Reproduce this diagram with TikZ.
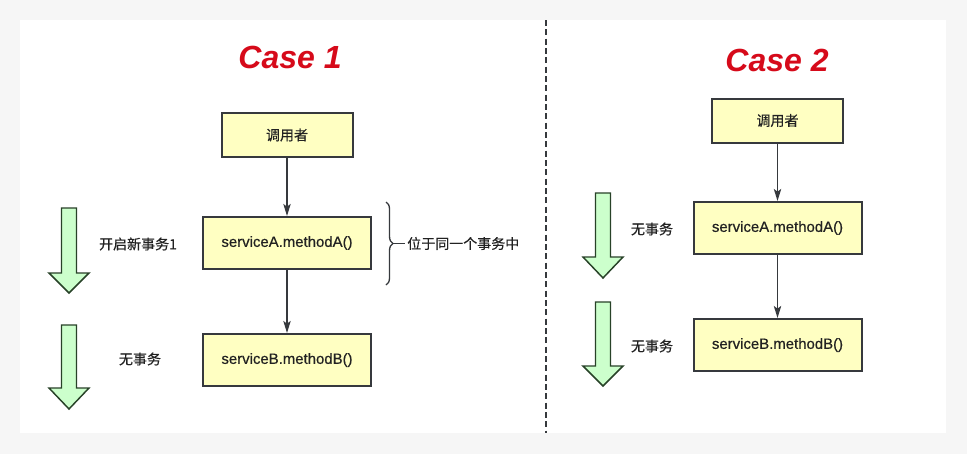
\documentclass[tikz,border=0pt]{standalone}
\usepackage{fontspec}
\setmainfont{Liberation Sans}
\newfontfamily\medsans{Liberation Sans}[FakeBold=0.45]
\newfontfamily\cjk{Noto Sans CJK SC}[FakeBold=0.45]
\usetikzlibrary{arrows.meta,decorations.pathreplacing}
\definecolor{boxfill}{RGB}{255,255,194}
\definecolor{boxline}{RGB}{54,57,61}
\definecolor{arrfill}{RGB}{204,255,204}
\definecolor{arrline}{RGB}{40,66,40}
\definecolor{casered}{RGB}{214,10,26}
\definecolor{txt}{RGB}{34,34,34}
\tikzset{
  callbox/.style={draw=boxline,fill=boxfill,line width=1.5pt,minimum width=98.25pt,minimum height=33pt,inner sep=0pt,text=txt,font=\cjk\fontsize{10.5}{12}\selectfont},
  svcbox/.style={callbox,minimum width=126pt,minimum height=39pt,font=\medsans\fontsize{11.2}{13}\selectfont},
  conn/.style={draw=boxline,line width=1.1pt,-{Stealth[length=9pt,width=5.5pt,inset=2pt]}},
  garrow/.style={draw=arrline,fill=arrfill,line width=1.1pt,line join=miter},
  note/.style={inner sep=1.5pt,text=txt,font=\cjk\fontsize{10.5}{12}\selectfont},
  casetitle/.style={text=casered,font=\fontsize{24}{28}\selectfont\bfseries\itshape}
}
\begin{document}
\begin{tikzpicture}[x=0.75pt,y=-0.75pt]
\useasboundingbox (0,0) rectangle (967,454);
\fill[gray!7] (0,0) rectangle (967,454);
\fill[white] (20,20) rectangle (946,433);
\draw[boxline,line width=1.1pt,dash pattern=on 4.5pt off 2.5pt] (546,20) -- (546,433);

% Case 1
\node[casetitle] (title1) at (290,57) {Case 1};
\node[callbox] (caller1) at (287,135) {调用者};
\node[svcbox] (sa1) at (287,243) {serviceA.methodA()};
\node[svcbox] (sb1) at (287,360) {serviceB.methodB()};
\draw[conn] (caller1) -- (sa1);
\draw[conn] (sa1) -- (sb1);
\node[note] (tx1) at (138,244) {开启新事务1};
\node[note] (none1) at (140,359) {无事务};
\draw[boxline,line width=1pt,decorate,decoration={brace,amplitude=5.25pt}] (386,202) -- (386,285);
\coordinate (tip) at (393,243.5);
\node[note,anchor=west] (same) at (405,243.5) {位于同一个事务中};
\draw[boxline,line width=1pt] (tip) -- (same.west);

% Case 2
\node[casetitle] (title2) at (777,60) {Case 2};
\node[callbox] (caller2) at (777.5,120.5) {调用者};
\node[svcbox] (sa2) at (777.5,228) {serviceA.methodA()};
\node[svcbox] (sb2) at (777.5,345) {serviceB.methodB()};
\draw[conn] (caller2) -- (sa2);
\draw[conn] (sa2) -- (sb2);
\node[note] (none2) at (652,229) {无事务};
\node[note] (none3) at (652,346) {无事务};

% green arrows
\foreach \cx/\t/\b/\p in {69/208/273/293, 69/325/388/409, 603/193/257/278, 603/302/366/386}
  \draw[garrow] (\cx-7.5,\t) -- (\cx+7.5,\t) -- (\cx+7.5,\b) -- (\cx+20,\b) -- (\cx,\p) -- (\cx-20,\b) -- (\cx-7.5,\b) -- cycle;
\end{tikzpicture}
\end{document}
